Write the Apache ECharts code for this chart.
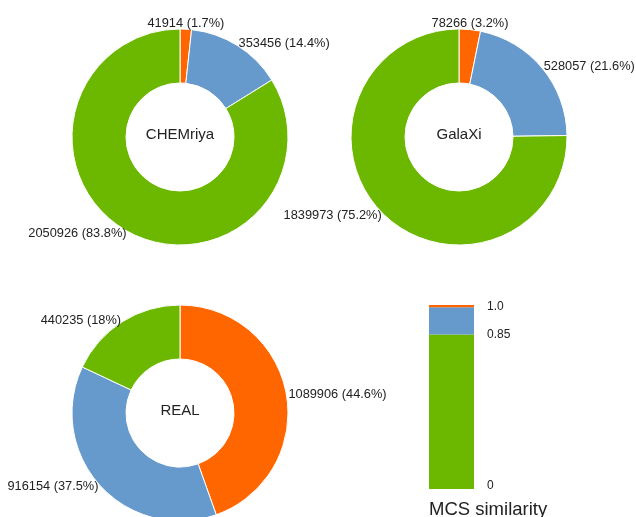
<!DOCTYPE html>
<html>
<head>
<meta charset="utf-8">
<script src="https://cdn.jsdelivr.net/npm/echarts@6/dist/echarts.min.js"></script>
<style>
html,body{margin:0;padding:0;background:#fff;}
#c{width:636px;height:517px;}
</style>
</head>
<body>
<div id="c"></div>
<script>
// ---- data ----
const sliceNames = ['1.0', '0.85–1.0', '0–0.85'];
const sliceColors = ['#ff6600', '#6699cc', '#6cb800'];
const chemriyaValues = [41914, 353456, 2050926];
const galaxiValues = [78266, 528057, 1839973];
const realValues = [1089906, 916154, 440235];
const donutTitles = ['CHEMriya', 'GalaXi', 'REAL'];

const barGreen = [0.85];
const barBlue = [0.15];
const barOrange = [0.012];
const barTickValues = [0, 0.85, 1.0];
const barTickLabels = ['0', '0.85', '1.0'];
const legendTitle = 'MCS similarity';

const FONT = '"Liberation Sans", Arial, sans-serif';
const centers = [[180, 137], [459, 137], [180, 413]];
const allValues = [chemriyaValues, galaxiValues, realValues];

function fmtPct(v, total) {
  return String(parseFloat((v / total * 100).toFixed(1)));
}

const pieSeries = allValues.map((vals, i) => {
  const total = vals.reduce((a, b) => a + b, 0);
  return {
    type: 'pie',
    center: centers[i],
    radius: [54, 108],
    startAngle: 90,
    clockwise: true,
    avoidLabelOverlap: false,
    silent: true,
    itemStyle: { borderColor: '#fff', borderWidth: 1 },
    label: {
      show: true,
      position: 'outside',
      distanceToLabelLine: 0,
      fontFamily: FONT,
      fontSize: 12.8,
      color: '#222',
      formatter: p => p.value + ' (' + fmtPct(p.value, total) + '%)'
    },
    labelLine: { show: false, length: 2, length2: 0 },
    labelLayout: function (p) {
      if (i < 2 && p.dataIndex === 0) return { align: 'center', dy: -4 };
      return {};
    },
    data: vals.map((v, k) => ({ name: sliceNames[k], value: v, itemStyle: { color: sliceColors[k] } }))
  };
});

const chart = echarts.init(document.getElementById('c'), null, { renderer: 'canvas' });
chart.setOption({
  backgroundColor: '#fff',
  animation: false,
  title: donutTitles.map((t, i) => ({
    text: t,
    left: centers[i][0],
    top: centers[i][1] - 10,
    textAlign: 'center',
    padding: 0,
    textStyle: { fontFamily: FONT, fontSize: 15, fontWeight: 'normal', color: '#222' }
  })).concat([{
    text: legendTitle,
    left: 429,
    top: 500,
    padding: 0,
    textStyle: { fontFamily: FONT, fontSize: 18.5, fontWeight: 'normal', color: '#222' }
  }]),
  grid: { left: 429, width: 45, top: 305, height: 184 },
  xAxis: { type: 'category', data: [''], show: false },
  yAxis: {
    type: 'value',
    min: 0,
    max: 1.012,
    position: 'right',
    axisLine: { show: false },
    axisTick: { show: false },
    splitLine: { show: false },
    axisLabel: {
      customValues: barTickValues,
      margin: 13,
      fontFamily: FONT,
      fontSize: 12,
      color: '#222',
      formatter: v => {
        const idx = barTickValues.indexOf(v);
        const s = idx >= 0 ? barTickLabels[idx] : '';
        return v === 0 ? '{z|' + s + '}' : s;
      },
      rich: { z: { fontFamily: FONT, fontSize: 12, color: '#222', padding: [0, 0, 6, 0] } }
    }
  },
  series: pieSeries.concat([
    { type: 'bar', stack: 's', data: barGreen, barWidth: '100%', itemStyle: { color: sliceColors[2] }, silent: true },
    { type: 'bar', stack: 's', data: barBlue, barWidth: '100%', itemStyle: { color: sliceColors[1] }, silent: true },
    { type: 'bar', stack: 's', data: barOrange, barWidth: '100%', itemStyle: { color: sliceColors[0] }, silent: true }
  ])
});
</script>
</body>
</html>
